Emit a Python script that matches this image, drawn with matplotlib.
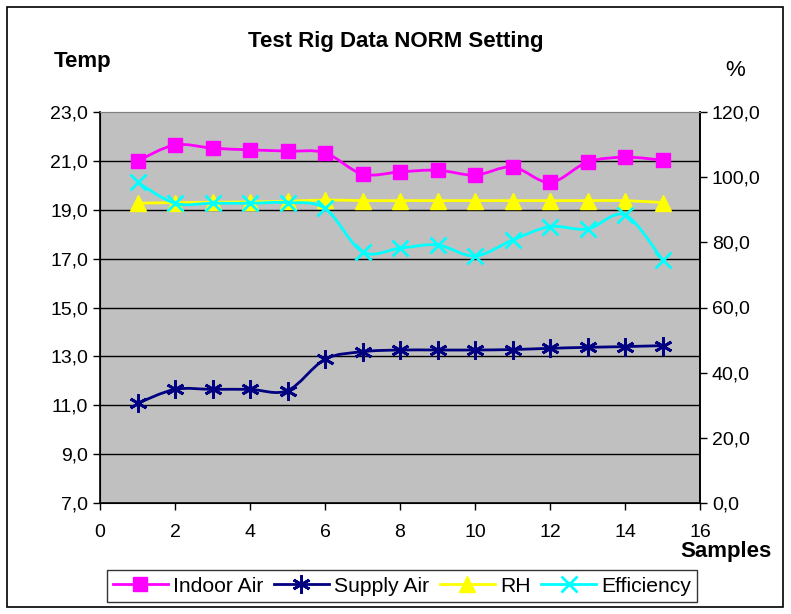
import matplotlib
matplotlib.use("Agg")
import matplotlib.pyplot as plt
from matplotlib.path import Path
from matplotlib.patches import PathPatch, Rectangle
from matplotlib.lines import Line2D
import numpy as np

plt.rcParams['font.family'] = ['Liberation Sans', 'DejaVu Sans']

""" Data read off the chart """
samples = list(range(1, 16))
indoor_air = [21.0, 21.65, 21.52, 21.45, 21.4, 21.33, 20.46, 20.55, 20.62,
              20.42, 20.75, 20.12, 20.95, 21.15, 21.03]
supply_air = [11.08, 11.65, 11.65, 11.65, 11.6, 12.88, 13.19, 13.26, 13.26,
              13.26, 13.28, 13.33, 13.37, 13.40, 13.44]
rh = [92.0, 92.2, 92.3, 92.4, 92.6, 93.0, 92.8, 92.8, 92.8, 92.8, 92.8,
      92.8, 92.8, 92.8, 92.2]
efficiency = [98.4, 92.0, 92.0, 92.0, 92.2, 90.4, 77.1, 78.2, 79.2, 75.8,
              80.7, 84.8, 84.1, 88.4, 74.6]

temp_ticks = [7, 9, 11, 13, 15, 17, 19, 21, 23]
pct_ticks = [0, 20, 40, 60, 80, 100, 120]
x_ticks = [0, 2, 4, 6, 8, 10, 12, 14, 16]


def smooth_path(xs, ys):
    # Excel style smoothed line: catmull-rom turned into bezier segments
    pts = np.column_stack([xs, ys]).astype(float)
    n = len(pts)
    verts = [pts[0]]
    codes = [Path.MOVETO]
    for i in range(n - 1):
        p0 = pts[i - 1] if i > 0 else pts[i]
        p1 = pts[i]
        p2 = pts[i + 1]
        p3 = pts[i + 2] if i + 2 < n else pts[i + 1]
        verts += [p1 + (p2 - p0) / 6.0, p2 - (p3 - p1) / 6.0, p2]
        codes += [Path.CURVE4] * 3
    return Path(verts, codes)


def draw_series(ax, xs, ys, color, marker, ms, mew, zorder):
    ax.add_patch(PathPatch(smooth_path(xs, ys), facecolor='none',
                           edgecolor=color, lw=2.0, zorder=zorder))
    ax.plot(xs, ys, ls='none', marker=marker, ms=ms, mew=mew,
            color=color, mec=color, zorder=zorder + 0.5)


fig = plt.figure(figsize=(7.91, 6.14), dpi=100)
fig.patches.append(Rectangle((7 / 791, 7 / 614), 776 / 791, 600 / 614,
                             transform=fig.transFigure, fill=False,
                             edgecolor='black', lw=1.2))

ax = fig.add_axes([100 / 791, 1 - 503 / 614, 600 / 791, 391 / 614])
ax.set_facecolor('#C0C0C0')
ax.set_xlim(0, 16)
ax.set_ylim(7, 23)
ax.set_xticks(x_ticks)
ax.set_yticks(temp_ticks)
ax.set_yticklabels([('%.1f' % t).replace('.', ',') for t in temp_ticks])
for t in temp_ticks[1:-1]:
    ax.axhline(t, color='black', lw=1.0, zorder=1)
ax.tick_params(axis='both', labelsize=14, direction='out', length=5, width=1)
ax.tick_params(axis='x', pad=10)
ax.spines['top'].set_color('#808080')
for s in ['left', 'bottom', 'right']:
    ax.spines[s].set_linewidth(1.2)

ax2 = ax.twinx()
ax2.set_ylim(0, 120)
ax2.set_yticks(pct_ticks)
ax2.set_yticklabels([('%.1f' % p).replace('.', ',') for p in pct_ticks])
ax2.tick_params(axis='y', labelsize=14, direction='out', length=5, width=1)
ax2.spines['top'].set_color('#808080')
ax2.spines['right'].set_linewidth(1.2)

draw_series(ax, samples, indoor_air, '#FF00FF', 's', 10, 1, 5)
draw_series(ax, samples, supply_air, '#000080', (6, 2, 0), 13, 2, 5)
draw_series(ax2, samples, rh, '#FFFF00', '^', 12, 1, 5)
draw_series(ax2, samples, efficiency, '#00FFFF', 'x', 11, 2, 6)

fig.text(396 / 791, 1 - 41 / 614, 'Test Rig Data NORM Setting', ha='center',
         va='center', fontsize=16, fontweight='bold')
fig.text(83 / 791, 1 - 61 / 614, 'Temp', ha='center', va='center',
         fontsize=16, fontweight='bold')
fig.text(735 / 791, 1 - 71 / 614, '%', ha='center', va='center', fontsize=16)
fig.text(726 / 791, 1 - 552 / 614, 'Samples', ha='center', va='center',
         fontsize=16, fontweight='bold')

handles = [
    Line2D([], [], color='#FF00FF', lw=2, marker='s', ms=10),
    Line2D([], [], color='#000080', lw=2, marker=(6, 2, 0), ms=13, mew=2),
    Line2D([], [], color='#FFFF00', lw=2, marker='^', ms=12),
    Line2D([], [], color='#00FFFF', lw=2, marker='x', ms=11, mew=2),
]
leg = fig.legend(handles, ['Indoor Air', 'Supply Air', 'RH', 'Efficiency'],
                 loc='center', bbox_to_anchor=(402 / 791, 1 - 586 / 614),
                 ncol=4, fontsize=15.2, frameon=True, fancybox=False,
                 edgecolor='black', handlelength=2.6, handletextpad=0.25,
                 columnspacing=0.5, borderpad=0.3, borderaxespad=0)
leg.get_frame().set_linewidth(1.0)

plt.savefig('out.png', dpi=100)
